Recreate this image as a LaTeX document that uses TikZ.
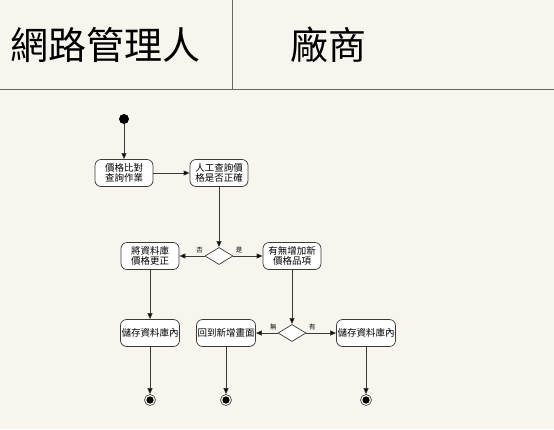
\documentclass[tikz,border=0pt]{standalone}
\usepackage{fontspec}
\newfontfamily\cjk{Noto Sans CJK TC}
\usetikzlibrary{shapes.geometric,arrows.meta}
\definecolor{paper}{HTML}{F8F5EE}
\definecolor{ink}{HTML}{3A3A3A}
\begin{document}
\begin{tikzpicture}[x=1pt,y=-1pt,
  act/.style={draw=ink,line width=0.7pt,rounded corners=6pt,fill=white,
    minimum width=58pt,minimum height=27pt,inner sep=1pt,
    font=\cjk\fontsize{9.5}{10.5}\selectfont,align=center},
  decision/.style={draw=ink,line width=0.7pt,diamond,fill=white,
    minimum width=28pt,minimum height=17pt,inner sep=0pt},
  flow/.style={draw=ink,line width=0.7pt,-{Triangle[length=6pt,width=5pt,fill=black]}},
  guard/.style={font=\cjk\fontsize{6.5}{7}\selectfont,inner sep=0pt},
  startdot/.style={circle,fill=black,minimum size=10pt,inner sep=0pt},
  enddot/.style={circle,draw=ink,line width=0.6pt,fill=paper,minimum size=11pt,inner sep=0pt,
    path picture={\fill[black] (path picture bounding box.center) circle (3.6pt);}},
  lane/.style={draw=gray!80!black,line width=1pt}]
% page and swimlane header
\fill[paper] (0,0) rectangle (554,429);
\useasboundingbox (0,0) rectangle (554,429);
\draw[lane] (0,89) -- (554,89);
\draw[lane] (232,0) -- (232,89);
\node[font=\cjk\fontsize{38}{40}\selectfont] (laneA) at (105,45) {網路管理人};
\node[font=\cjk\fontsize{38}{40}\selectfont] (laneB) at (328,45) {廠商};
% activities
\node[startdot] (start) at (124,119) {};
\node[act] (compare) at (124,173) {價格比對\\查詢作業};
\node[act] (check) at (219,173) {人工查詢價\\格是否正確};
\node[decision] (d1) at (219,256) {};
\node[act] (fix) at (150,256) {將資料庫\\價格更正};
\node[act] (newitem) at (292,256) {有無增加新\\價格品項};
\node[act] (save1) at (150,333) {儲存資料庫內};
\node[decision] (d2) at (292,333) {};
\node[act] (back) at (226,333) {回到新增畫面};
\node[act] (save2) at (366,333) {儲存資料庫內};
\node[enddot] (end1) at (150,400) {};
\node[enddot] (end2) at (226,400) {};
\node[enddot] (end3) at (366,400) {};
% transitions
\draw[flow] (start) -- (compare);
\draw[flow] (compare) -- (check);
\draw[flow] (check) -- (d1);
\draw[flow] (d1) -- node[guard,above=3pt,pos=0.2] {否} (fix);
\draw[flow] (d1) -- node[guard,above=3pt,pos=0.2] {是} (newitem);
\draw[flow] (fix) -- (save1);
\draw[flow] (newitem) -- (d2);
\draw[flow] (d2) -- node[guard,above=3pt,pos=0.2] {無} (back);
\draw[flow] (d2) -- node[guard,above=3pt,pos=0.2] {有} (save2);
\draw[flow] (save1) -- (end1);
\draw[flow] (back) -- (end2);
\draw[flow] (save2) -- (end3);
\end{tikzpicture}
\end{document}
